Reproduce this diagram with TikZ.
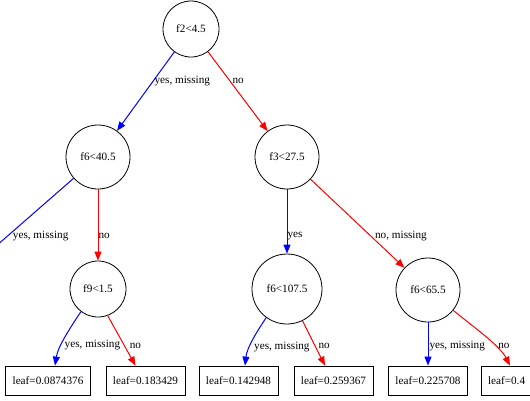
\documentclass[tikz,border=0pt]{standalone}
\usepackage{fontspec}
\setmainfont{Liberation Serif}
\usetikzlibrary{positioning, arrows.meta}
\definecolor{yesBlue}{HTML}{0000FF}
\definecolor{noRed}{HTML}{FF0000}
\newcommand{\treefont}{\fontsize{11.2}{13}\selectfont}
\tikzset{
  split/.style={
    circle, draw=black, line width=0.8pt, minimum size=64pt, inner sep=0pt,
    font=\treefont,
  },
  leaf/.style={
    rectangle, draw=black, line width=0.8pt, minimum height=29pt,
    inner xsep=7pt, inner ysep=0pt, font=\treefont,
  },
  lbl/.style={
    font=\treefont, text=black, inner sep=0pt, anchor=west,
  },
  yesedge/.style={
    -{Triangle[length=9pt, width=7pt]}, line width=1pt, color=yesBlue,
  },
  noedge/.style={
    -{Triangle[length=9pt, width=7pt]}, line width=1pt, color=noRed,
  },
}
\begin{document}
\begin{tikzpicture}[x=1pt, y=-1pt, on grid]
  \useasboundingbox (0,0) rectangle (530,400);
  \clip (0,0) rectangle (530,400);

  % === Root split (its parent lies above the picture) ===
  \node[split, minimum size=56pt] (f2) at (191,29) {f2<4.5};
  \coordinate (parent) at (191,-40);

  % === Second level ===
  \node[split, below left=128pt and 93pt of f2] (f6a) {f6<40.5};
  \node[split, below right=128pt and 96pt of f2] (f3) {f3<27.5};

  % === Third level ===
  \node[split, minimum size=56pt, below=132pt of f6a] (f9) {f9<1.5};
  \node[split, minimum size=70pt, below=132pt of f3] (f6b) {f6<107.5};
  \node[split, below right=133pt and 141pt of f3] (f6c) {f6<65.5};
  \coordinate (lostchild) at (-60,295);

  % === Leaves ===
  \node[leaf, below left=91.5pt and 50pt of f9] (l1) {leaf=0.0874376};
  \node[leaf, below right=91.5pt and 47.5pt of f9] (l2) {leaf=0.183429};
  \node[leaf, below left=91.5pt and 48.5pt of f6b] (l3) {leaf=0.142948};
  \node[leaf, below right=91.5pt and 46.5pt of f6b] (l4) {leaf=0.259367};
  \node[leaf, below=90.5pt of f6c] (l5) {leaf=0.225708};
  \node[leaf, below right=90.5pt and 92.5pt of f6c, text width=65pt, align=left] (l6) {leaf=0.4};

  % === Edges: upper levels ===
  \draw[noedge] (parent) -- (f2);
  \draw[yesedge] (f2) -- node[lbl, pos=0.37, xshift=1pt] {yes, missing} (f6a);
  \draw[noedge] (f2) -- node[lbl, pos=0.37, xshift=2pt] {no} (f3);
  \draw[yesedge] (f6a) -- node[lbl, pos=0.495, xshift=5pt] {yes, missing} (lostchild);
  \draw[noedge] (f6a) -- node[lbl, pos=0.65] {no} (f9);
  \draw[yesedge] (f3) -- node[lbl, pos=0.72] {yes} (f6b);
  \draw[noedge] (f3) -- node[lbl, pos=0.64, xshift=4pt] {no, missing} (f6c);

  % === Edges: down to the leaves ===
  \draw[yesedge] (f9.233) .. controls (72,325) and (58,346) .. ([xshift=7pt]l1.north) node[lbl, pos=0.66, xshift=3pt] {yes, missing};
  \draw[noedge] (f9.290) -- node[lbl, pos=0.6, xshift=5pt] {no} ([xshift=-10pt]l2.north);
  \draw[yesedge] (f6b.234) .. controls (258,330) and (247,347) .. ([xshift=6.5pt]l3.north) node[lbl, pos=0.66, xshift=4pt] {yes, missing};
  \draw[noedge] (f6b.296) -- node[lbl, pos=0.56, xshift=3pt] {no} ([xshift=-8.5pt]l4.north);
  \draw[yesedge] (f6c) -- node[lbl, pos=0.55, xshift=1pt] {yes, missing} (f6c |- l5.north);
  \draw[noedge] (f6c.321) .. controls (475,328) and (500,346) .. ([xshift=-10.5pt]l6.north) node[lbl, pos=0.65, xshift=3pt] {no};

\end{tikzpicture}
\end{document}
